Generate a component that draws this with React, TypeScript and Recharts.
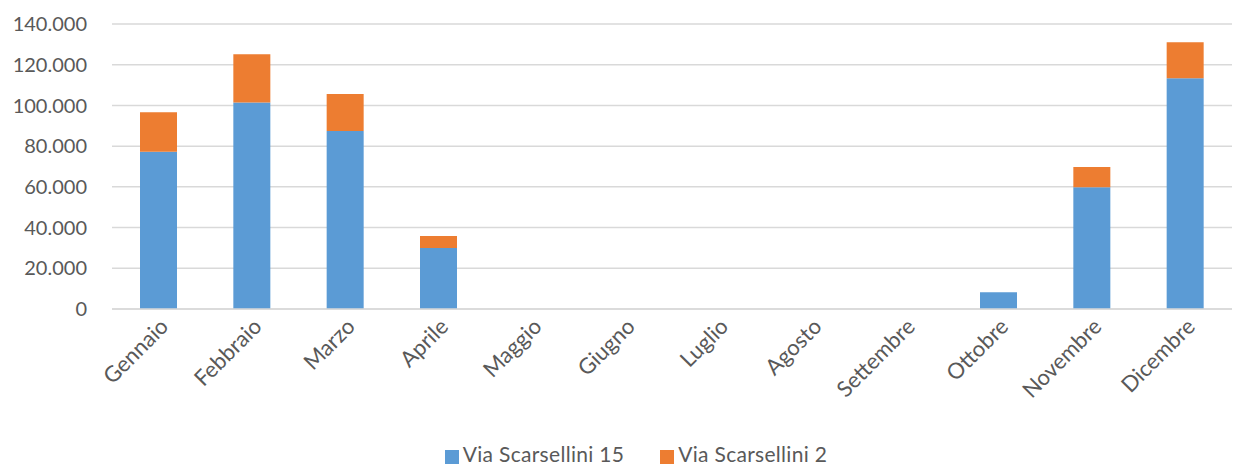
import React from "react";
import { BarChart, Bar, XAxis, YAxis, CartesianGrid, Legend } from "recharts";

const months = ["Gennaio", "Febbraio", "Marzo", "Aprile", "Maggio", "Giugno", "Luglio", "Agosto", "Settembre", "Ottobre", "Novembre", "Dicembre"];
const via15 = [77300, 101500, 87400, 30000, 0, 0, 0, 0, 0, 8200, 59800, 113300];
const via2 = [19300, 23600, 18200, 5900, 0, 0, 0, 0, 0, 0, 9900, 17700];
const yTicks = [0, 20000, 40000, 60000, 80000, 100000, 120000, 140000];

const data = months.map((m, i) => ({ name: m, a: via15[i], b: via2[i] }));

const fmt = (v: number) => (v === 0 ? "0" : v.toLocaleString("de-DE"));
const FONT = "Lato, 'Open Sans', sans-serif";

export default function App() {
  return (
    <div style={{ position: "absolute", left: 0, top: 0, width: 1245, height: 466, background: "#fff" }}>
      <BarChart
        width={1245}
        height={466}
        data={data}
        margin={{ top: 24, right: 13, left: 0, bottom: 0 }}
        barCategoryGap="30%"
      >
        <CartesianGrid vertical={false} stroke="#D9D9D9" strokeWidth={1.5} />
        <XAxis
          dataKey="name"
          interval={0}
          height={132}
          axisLine={{ stroke: "#D9D9D9", strokeWidth: 1.5 }}
          tickLine={false}
          angle={-45}
          textAnchor="end"
          tick={{ fill: "#595959", fontSize: 22, fontFamily: FONT }}
          tickMargin={2}
        />
        <YAxis
          width={112}
          domain={[0, 140000]}
          ticks={yTicks}
          tickFormatter={fmt}
          axisLine={false}
          tickLine={false}
          tickSize={0}
          tickMargin={25}
          tick={{ fill: "#595959", fontSize: 20, fontFamily: FONT }}
        />
        <Legend
          verticalAlign="bottom"
          iconType="square"
          iconSize={14}
          wrapperStyle={{ fontFamily: FONT, fontSize: 21, color: "#595959", paddingLeft: 76, boxSizing: "border-box" }}
          formatter={(v) => <span style={{ color: "#595959", marginRight: 26, letterSpacing: 0.3 }}>{v}</span>}
        />
        <Bar dataKey="a" name="Via Scarsellini 15" stackId="s" fill="#5B9BD5" isAnimationActive={false} />
        <Bar dataKey="b" name="Via Scarsellini 2" stackId="s" fill="#ED7D31" isAnimationActive={false} />
      </BarChart>
    </div>
  );
}
